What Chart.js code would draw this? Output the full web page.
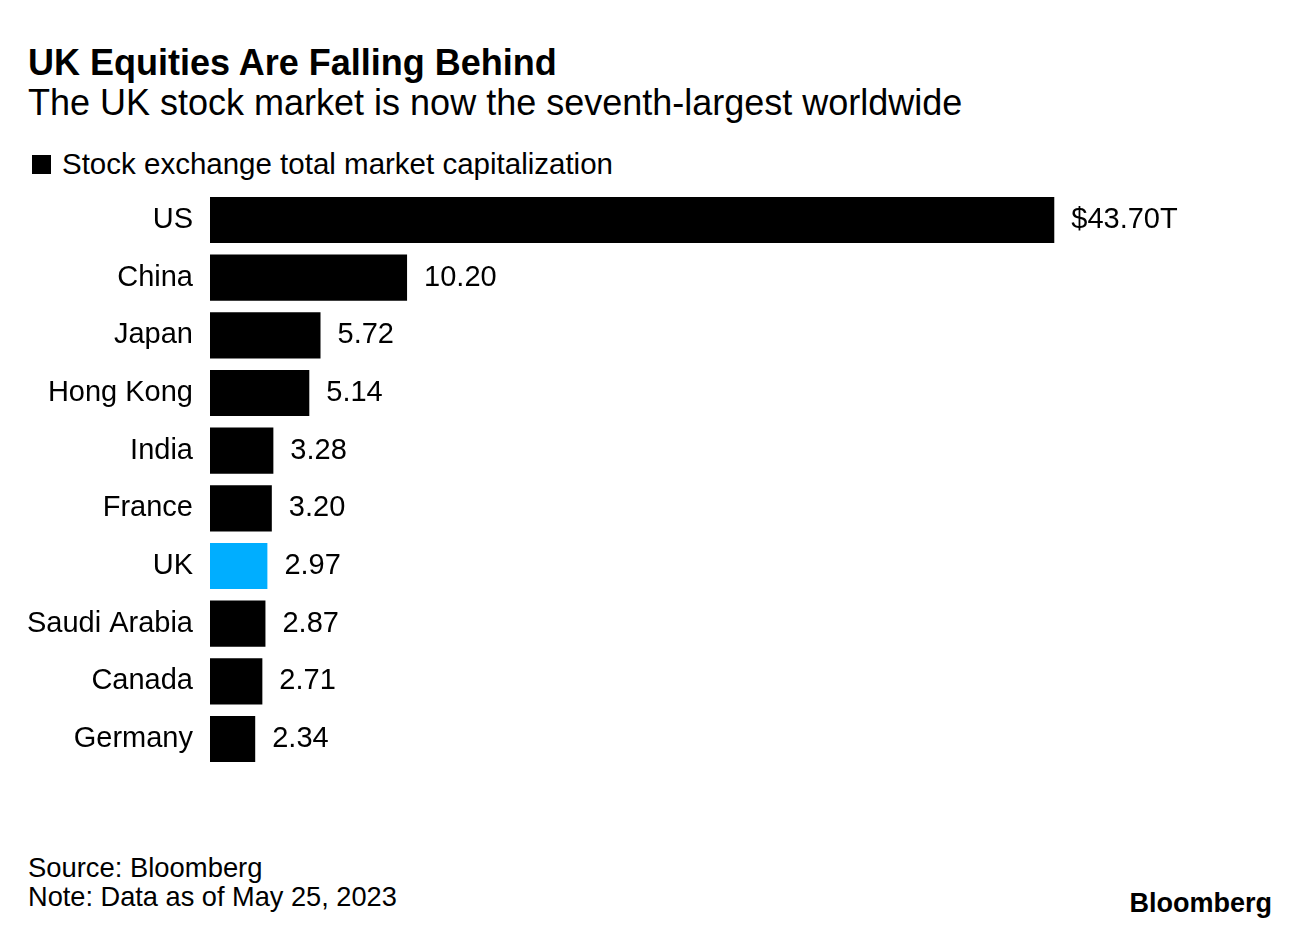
<!DOCTYPE html>
<html>
<head>
<meta charset="utf-8">
<script src="https://cdn.jsdelivr.net/npm/chart.js@4/dist/chart.umd.min.js"></script>
<style>
  body { margin: 0; background: #fff; font-family: "Liberation Sans", Arial, sans-serif; color: #000; }
  #page { position: relative; width: 1296px; height: 938px; overflow: hidden; }
  .txt { position: absolute; white-space: nowrap; line-height: 1; }
  #title { left: 28px; top: 45px; font-size: 36px; font-weight: bold; }
  #subtitle { left: 28px; top: 85px; font-size: 36px; }
  #legend { left: 62px; top: 149px; font-size: 29.5px; }
  #legendBox { position: absolute; left: 32px; top: 155px; width: 19px; height: 19px; background: #000; }
  #source { left: 28px; top: 854px; font-size: 27.4px; }
  #note { left: 28px; top: 883px; font-size: 27.2px; }
  #logo { right: 24px; top: 890px; font-size: 27px; font-weight: bold; }
  #wrap { position: absolute; left: 0; top: 191px; width: 1296px; height: 577px; }
</style>
</head>
<body>
<div id="page">
  <div class="txt" id="title">UK Equities Are Falling Behind</div>
  <div class="txt" id="subtitle">The UK stock market is now the seventh-largest worldwide</div>
  <div id="legendBox"></div>
  <div class="txt" id="legend">Stock exchange total market capitalization</div>
  <div id="wrap"><canvas id="barChart"></canvas></div>
  <div class="txt" id="source">Source: Bloomberg</div>
  <div class="txt" id="note">Note: Data as of May 25, 2023</div>
  <div class="txt" id="logo">Bloomberg</div>
</div>
<script>
var countries = ['US', 'China', 'Japan', 'Hong Kong', 'India', 'France', 'UK', 'Saudi Arabia', 'Canada', 'Germany'];
var marketCap = [43.70, 10.20, 5.72, 5.14, 3.28, 3.20, 2.97, 2.87, 2.71, 2.34];
var valueLabels = ['$43.70T', '10.20', '5.72', '5.14', '3.28', '3.20', '2.97', '2.87', '2.71', '2.34'];
var highlight = 'UK';

var font = '"Liberation Sans", Arial, sans-serif';

// value labels to the right of each bar
var valueLabelPlugin = {
  id: 'valueLabels',
  afterDatasetsDraw: function (chart) {
    var ctx = chart.ctx;
    var meta = chart.getDatasetMeta(0);
    ctx.save();
    ctx.fillStyle = '#000';
    ctx.font = '29px ' + font;
    ctx.textAlign = 'left';
    ctx.textBaseline = 'middle';
    meta.data.forEach(function (bar, i) {
      ctx.fillText(valueLabels[i], bar.x + 17, bar.y);
    });
    ctx.restore();
  }
};

var barCtx = document.getElementById('barChart').getContext('2d');
var barChart = new Chart(barCtx, {
  type: 'bar',
  data: {
    labels: countries,
    datasets: [{
      label: 'Stock exchange total market capitalization',
      data: marketCap,
      backgroundColor: countries.map(function (c) { return c === highlight ? '#00aeff' : '#000000'; }),
      barPercentage: 0.8,
      categoryPercentage: 1.0
    }]
  },
  options: {
    indexAxis: 'y',
    responsive: true,
    maintainAspectRatio: false,
    animation: false,
    layout: { autoPadding: false, padding: { left: 0, right: 120, top: 0, bottom: 0 } },
    plugins: {
      legend: { display: false },
      tooltip: { enabled: false }
    },
    scales: {
      x: {
        display: false,
        min: 0,
        max: 50
      },
      y: {
        afterFit: function (scale) { scale.width = 210; },
        // tick marks only used as a gap between labels and bars
        grid: {
          display: true,
          drawOnChartArea: false,
          drawTicks: true,
          tickLength: 17,
          color: 'rgba(0,0,0,0)'
        },
        border: { display: false },
        ticks: {
          color: '#000',
          padding: 0,
          font: { family: font, size: 29, lineHeight: 0.01 }
        }
      }
    }
  },
  plugins: [valueLabelPlugin]
});
</script>
</body>
</html>
